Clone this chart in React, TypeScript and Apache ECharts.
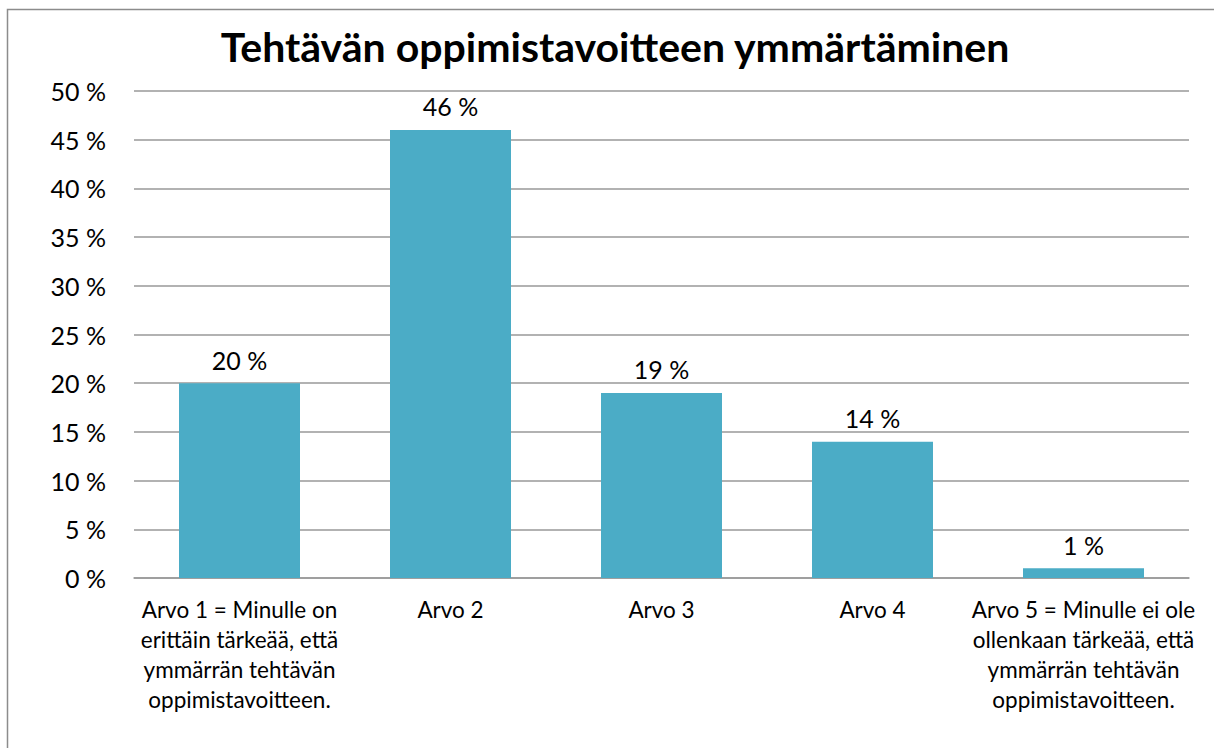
import React, { useEffect, useRef } from "react";
import * as echarts from "echarts";

const titleText = "Tehtävän oppimistavoitteen ymmärtäminen";
const categories = [
  "Arvo 1 = Minulle on\nerittäin tärkeää, että\nymmärrän tehtävän\noppimistavoitteen.",
  "Arvo 2",
  "Arvo 3",
  "Arvo 4",
  "Arvo 5 = Minulle ei ole\nollenkaan tärkeää, että\nymmärrän tehtävän\noppimistavoitteen.",
];
const values = [20, 46, 19, 14, 1];
const yMin = 0;
const yMax = 50;
const yStep = 5;

const FONT = "Lato, 'Noto Sans', sans-serif";

export default function App() {
  const ref = useRef<HTMLDivElement>(null);
  useEffect(() => {
    if (!ref.current) return;
    const chart = echarts.init(ref.current, undefined, { renderer: "svg" });
    chart.setOption({
      animation: false,
      backgroundColor: "#ffffff",
      textStyle: { fontFamily: FONT },
      title: {
        text: titleText,
        left: 610,
        top: 21,
        textAlign: "center",
        textStyle: { fontFamily: FONT, fontSize: 41, fontWeight: "bold", color: "#000" },
      },
      graphic: [
        {
          type: "polyline",
          shape: { points: [[7.5, 760], [7.5, 9.5], [1230, 9.5]] },
          style: { stroke: "#8c8c8c", lineWidth: 1.5, fill: "none" },
          silent: true,
        },
      ],
      grid: { left: 134, right: 25, top: 91, bottom: 170, containLabel: false },
      xAxis: {
        type: "category",
        data: categories,
        axisTick: { show: false },
        axisLine: { show: true, lineStyle: { color: "#999", width: 1.5 } },
        axisLabel: {
          interval: 0,
          margin: 16,
          fontFamily: FONT,
          fontSize: 22.5,
          lineHeight: 30,
          color: "#000",
          align: "center",
        },
      },
      yAxis: {
        type: "value",
        min: yMin,
        max: yMax,
        interval: yStep,
        axisLine: { show: false },
        axisTick: { show: false },
        splitLine: { lineStyle: { color: "#999", width: 1.5 } },
        axisLabel: {
          margin: 28,
          fontFamily: FONT,
          fontSize: 25,
          color: "#000",
          formatter: (v: number) => `${v} %`,
        },
      },
      series: [
        {
          type: "bar",
          data: values,
          barWidth: 121,
          itemStyle: { color: "#4BACC6" },
          label: {
            show: true,
            position: "top",
            distance: 11,
            fontFamily: FONT,
            fontSize: 25,
            color: "#000",
            formatter: (p: any) => `${p.value} %`,
          },
        },
      ],
    });
    return () => chart.dispose();
  }, []);
  return (
    <div
      ref={ref}
      style={{ position: "fixed", left: 0, top: 0, width: 1214, height: 748 }}
    />
  );
}
